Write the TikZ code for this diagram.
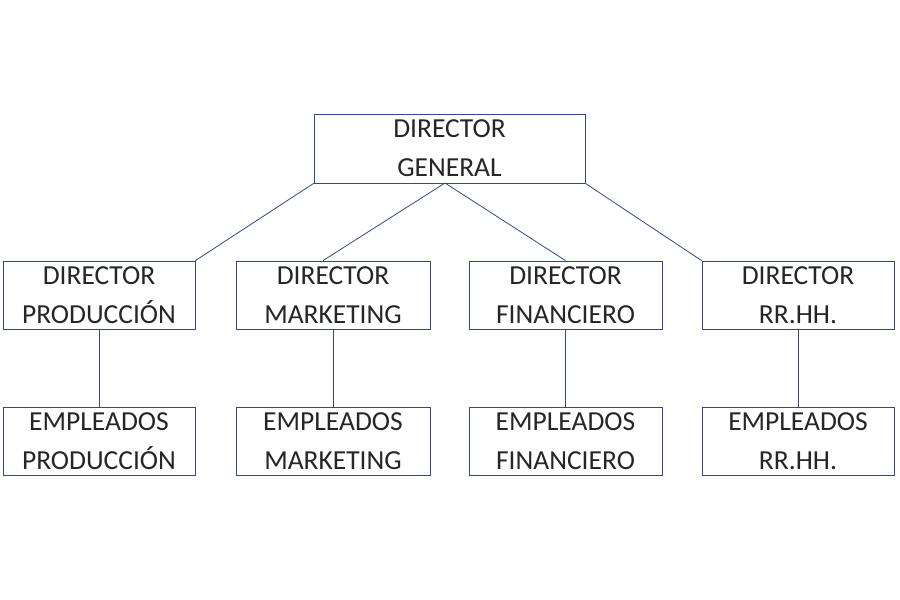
\documentclass[tikz,border=0pt]{standalone}
\usepackage{fontspec}
\setmainfont{Carlito}
\definecolor{linecol}{HTML}{2F4A8A}
\tikzstyle{unit} = [draw=linecol, thick, rectangle, inner sep=0pt,
  align=center, font=\fontsize{27.5}{39}\selectfont, text=black!85]
\tikzstyle{link} = [draw=linecol, thick]

\begin{document}
\begin{tikzpicture}[x=1pt,y=-1pt]
        \useasboundingbox (0,0) rectangle (900,600);
        \node [unit, minimum width=271pt, minimum height=69pt] (general) at (449.5,148.5) {DIRECTOR\\GENERAL};

        \node [unit, minimum width=192pt, minimum height=68pt] (dprod) at ( 99,295) {DIRECTOR\\PRODUCCIÓN};
        \node [unit, minimum width=194pt, minimum height=68pt] (dmark) at (333,295) {DIRECTOR\\MARKETING};
        \node [unit, minimum width=193pt, minimum height=68pt] (dfin)  at (565.5,295) {DIRECTOR\\FINANCIERO};
        \node [unit, minimum width=192pt, minimum height=68pt] (drrhh) at (798,295) {DIRECTOR\\RR.HH.};

        \node [unit, minimum width=192pt, minimum height=68pt] (eprod) at ( 99,441) {EMPLEADOS\\PRODUCCIÓN};
        \node [unit, minimum width=194pt, minimum height=68pt] (emark) at (333,441) {EMPLEADOS\\MARKETING};
        \node [unit, minimum width=193pt, minimum height=68pt] (efin)  at (565.5,441) {EMPLEADOS\\FINANCIERO};
        \node [unit, minimum width=192pt, minimum height=68pt] (errhh) at (798,441) {EMPLEADOS\\RR.HH.};

        \coordinate (hub) at (445,183);

        \draw[link] (general.south west) -- (dprod.north east);
        \draw[link] (hub) -- (dmark.north -| 323,0);
        \draw[link] (hub) -- (dfin.north);
        \draw[link] (general.south east) -- (drrhh.north west);

        \draw[link] (dprod.south) -- (eprod.north);
        \draw[link] (dmark.south) -- (emark.north);
        \draw[link] (dfin.south)  -- (efin.north);
        \draw[link] (drrhh.south) -- (errhh.north);
      \end{tikzpicture}
\end{document}
